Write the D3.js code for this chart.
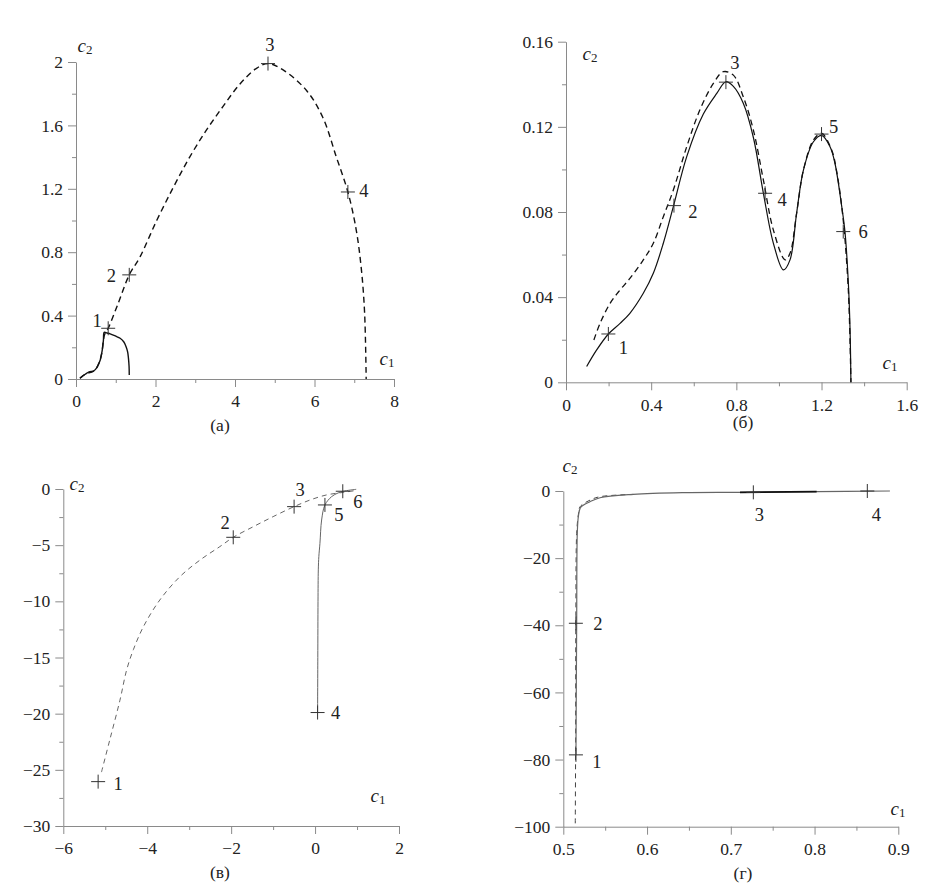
<!DOCTYPE html>
<html><head><meta charset="utf-8">
<script src="https://cdn.jsdelivr.net/npm/d3@7"></script>
<style>body{margin:0;background:#fff}svg{display:block}</style>
</head><body><svg id="c" width="947" height="886"></svg>
<script>
// ---------- DATA ----------
// panel (а)
const aSolidC1 = [0.10, 0.17, 0.23, 0.33, 0.44, 0.52, 0.56, 0.61, 0.645, 0.67, 0.69, 0.71, 0.78, 0.86, 1.0, 1.11, 1.20, 1.26, 1.30, 1.32, 1.335, 1.34];
const aSolidC2 = [0.004, 0.02, 0.03, 0.045, 0.05, 0.07, 0.09, 0.12, 0.16, 0.20, 0.245, 0.294, 0.29, 0.285, 0.27, 0.257, 0.235, 0.204, 0.17, 0.13, 0.08, 0.025];
const aDashC1 = [0.10, 0.23, 0.44, 0.56, 0.645, 0.69, 0.72, 0.81, 1.05, 1.34, 1.61, 2.03, 2.45, 2.86, 3.28, 3.70, 4.12, 4.54, 4.83, 5.21, 5.80, 6.21, 6.55, 6.84, 7.05, 7.18, 7.26, 7.30];
const aDashC2 = [0.004, 0.03, 0.05, 0.09, 0.16, 0.245, 0.28, 0.32, 0.47, 0.657, 0.77, 1.0, 1.21, 1.40, 1.57, 1.72, 1.86, 1.96, 1.99, 1.95, 1.82, 1.65, 1.40, 1.18, 0.94, 0.69, 0.42, 0.0];
const aMarkC1 = [0.81, 1.34, 4.83, 6.84];
const aMarkC2 = [0.32, 0.657, 1.99, 1.18];
const aMarkLabels = ["1", "2", "3", "4"];
const aXTicks = [0, 2, 4, 6, 8];
const aXMinor = [1, 3, 5, 7];
const aYTicks = [0, 0.4, 0.8, 1.2, 1.6, 2];
const aYMinor = [0.2, 0.6, 1.0, 1.4, 1.8];

// panel (б)
const bSolidC1 = [0.097, 0.144, 0.199, 0.254, 0.30, 0.363, 0.41, 0.457, 0.504, 0.567, 0.645, 0.708, 0.751, 0.786, 0.833, 0.88, 0.927, 0.974, 1.021, 1.052, 1.083, 1.115, 1.162, 1.20, 1.24, 1.263, 1.295, 1.31, 1.326, 1.334, 1.338];
const bSolidC2 = [0.0074, 0.0152, 0.0227, 0.0277, 0.0324, 0.0418, 0.0512, 0.0653, 0.0825, 0.106, 0.126, 0.1357, 0.1412, 0.139, 0.131, 0.115, 0.0888, 0.0653, 0.0528, 0.0575, 0.0794, 0.0997, 0.113, 0.116, 0.1107, 0.1029, 0.0825, 0.0708, 0.0465, 0.0246, 0];
const bDashC1 = [0.131, 0.16, 0.207, 0.254, 0.30, 0.363, 0.41, 0.457, 0.504, 0.567, 0.629, 0.692, 0.739, 0.786, 0.833, 0.88, 0.927, 0.974, 1.029, 1.052, 1.083, 1.115, 1.162, 1.20, 1.248, 1.27, 1.30, 1.326, 1.338];
const bDashC2 = [0.0199, 0.0277, 0.0371, 0.0434, 0.0488, 0.0575, 0.0653, 0.0778, 0.0903, 0.1107, 0.128, 0.1404, 0.1459, 0.1443, 0.134, 0.1185, 0.095, 0.0715, 0.0575, 0.0606, 0.0794, 0.0997, 0.1138, 0.117, 0.109, 0.0997, 0.078, 0.043, 0];
const bMarkC1 = [0.199, 0.507, 0.751, 0.935, 1.20, 1.302];
const bMarkC2 = [0.0227, 0.083, 0.141, 0.0888, 0.1166, 0.0708];
const bMarkLabels = ["1", "2", "3", "4", "5", "6"];
const bXTicks = [0, 0.4, 0.8, 1.2, 1.6];
const bXMinor = [0.2, 0.6, 1.0, 1.4];
const bYTicks = [0, 0.04, 0.08, 0.12, 0.16];
const bYMinor = [0.02, 0.06, 0.10, 0.14];

// panel (в)
const vDashC1 = [-5.09, -4.89, -4.65, -4.49, -4.33, -4.09, -3.70, -3.22, -2.74, -2.27, -1.95, -1.47, -1.0, -0.50, -0.12, 0.27, 0.67, 1.0];
const vDashC2 = [-25.2, -22.3, -18.8, -16.1, -14.3, -12.25, -9.88, -7.8, -6.32, -5.13, -4.3, -3.35, -2.46, -1.57, -0.98, -0.53, -0.30, -0.12];
const vSolidC1 = [0.06, 0.065, 0.07, 0.077, 0.09, 0.116, 0.156, 0.235, 0.394, 0.55, 0.67, 0.98];
const vSolidC2 = [-19.9, -15, -10, -7.2, -6, -4.84, -2.76, -1.42, -0.68, -0.35, -0.2, -0.03];
const vMarkC1 = [-5.17, -1.95, -0.5, 0.06, 0.235, 0.66];
const vMarkC2 = [-26.05, -4.3, -1.57, -19.9, -1.42, -0.2];
const vMarkLabels = ["1", "2", "3", "4", "5", "6"];
const vXTicks = [-6, -4, -2, 0, 2];
const vXMinor = [-5, -3, -1, 1];
const vYTicks = [0, -5, -10, -15, -20, -25, -30];
const vYMinor = [-2.5, -7.5, -12.5, -17.5, -22.5, -27.5];

// panel (г)
const gSolidC1 = [0.5151, 0.5155, 0.516, 0.5167, 0.518, 0.5207, 0.5318, 0.5438, 0.5836, 0.643, 0.711, 0.8025, 0.89];
const gSolidC2 = [-78.6, -60, -37.4, -12.6, -7.6, -4.9, -3.2, -2.0, -1.0, -0.5, -0.4, -0.2, 0];
const gBoldC1 = [0.711, 0.8025];
const gBoldC2 = [-0.4, -0.2];
const gDashC1 = [0.5143, 0.5147, 0.515, 0.516, 0.518, 0.52, 0.532, 0.5438, 0.5836];
const gDashC2 = [-99, -77, -37, -12.6, -7, -4.7, -2.7, -1.7, -1.0];
const gMarkC1 = [0.5151, 0.515, 0.7269, 0.863];
const gMarkC2 = [-78.6, -39.4, -0.4, 0];
const gMarkLabels = ["1", "2", "3", "4"];
const gXTicks = [0.5, 0.6, 0.7, 0.8, 0.9];
const gXMinor = [0.55, 0.65, 0.75, 0.85];
const gYTicks = [0, -20, -40, -60, -80, -100];
const gYMinor = [-10, -30, -50, -70, -90];

const captions = ["(а)", "(б)", "(в)", "(г)"];

// ---------- LAYOUT / STYLE ----------
const zip = (a, b) => a.map((v, i) => [v, b[i]]);
const panels = [
  { xd: [0, 8], yd: [0, 2], xr: [76, 394], yr: [379, 62],
    xT: aXTicks, xM: aXMinor, yT: aYTicks, yM: aYMinor,
    solid: zip(aSolidC1, aSolidC2), dash: zip(aDashC1, aDashC2),
    marks: zip(aMarkC1, aMarkC2), labels: aMarkLabels,
    offs: [[-11, -7], [-18, 1], [2, -19], [16, -1]],
    solidStyle: { c: "#111", w: 1.4 }, dashStyle: { c: "#111", w: 1.4, d: "6,4" },
    c2: [85, 45], c1: [387, 358], cap: [220, 425] },
  { xd: [0, 1.6], yd: [0, 0.16], xr: [566, 906.7], yr: [382.3, 41.7],
    xT: bXTicks, xM: bXMinor, yT: bYTicks, yM: bYMinor,
    solid: zip(bSolidC1, bSolidC2), dash: zip(bDashC1, bDashC2),
    marks: zip(bMarkC1, bMarkC2), labels: bMarkLabels,
    offs: [[15, 14], [19, 6], [9, -19], [17, 7], [12, -7], [20, 0]],
    solidStyle: { c: "#111", w: 1.2 }, dashStyle: { c: "#111", w: 1.3, d: "6,4" },
    c2: [590, 53], c1: [890, 362], cap: [743, 422] },
  { xd: [-6, 2], yd: [-30, 0], xr: [63.3, 399], yr: [826, 489],
    xT: vXTicks, xM: vXMinor, yT: vYTicks, yM: vYMinor,
    solid: zip(vSolidC1, vSolidC2), dash: zip(vDashC1, vDashC2),
    marks: zip(vMarkC1, vMarkC2), labels: vMarkLabels,
    offs: [[20, 2], [-8, -14], [6, -17], [18, 0], [14, 10], [15, 11]],
    solidStyle: { c: "#666", w: 1 }, dashStyle: { c: "#666", w: 1, d: "5,4" },
    c2: [77, 483], c1: [378, 795], cap: [220, 872] },
  { xd: [0.5, 0.9], yd: [-100, 0], xr: [563.3, 898.3], yr: [826.7, 491],
    xT: gXTicks, xM: gXMinor, yT: gYTicks, yM: gYMinor,
    solid: zip(gSolidC1, gSolidC2), dash: zip(gDashC1, gDashC2),
    bold: zip(gBoldC1, gBoldC2),
    marks: zip(gMarkC1, gMarkC2), labels: gMarkLabels,
    offs: [[21, 7], [22, 1], [6, 23], [9, 24]],
    solidStyle: { c: "#666", w: 1.2 }, dashStyle: { c: "#444", w: 1, d: "5,4" },
    c2: [570, 465], c1: [898, 808], cap: [743, 873] }
];

const FONT = "'Liberation Serif', 'Times New Roman', serif";
const svg = d3.select("#c");
const fmt = d => d3.format("~g")(d).replace("-", "\u2212");

function axisTitle(g, pos, sub) {
  const t = g.append("text").attr("x", pos[0]).attr("y", pos[1])
    .attr("text-anchor", "middle").attr("dominant-baseline", "central")
    .attr("font-family", FONT).attr("font-size", 19).attr("fill", "#222");
  t.append("tspan").attr("font-style", "italic").text("c");
  t.append("tspan").attr("font-size", 13).attr("dy", 4).text(sub);
}

panels.forEach((p, i) => {
  const g = svg.append("g");
  const x = d3.scaleLinear().domain(p.xd).range(p.xr);
  const y = d3.scaleLinear().domain(p.yd).range(p.yr);
  const xAxisY = p.yr[0], yAxisX = p.xr[0];

  // minor ticks
  g.append("g").attr("transform", `translate(0,${xAxisY})`)
    .call(d3.axisBottom(x).tickValues(p.xM).tickSize(4).tickFormat("").tickSizeOuter(0))
    .call(s => s.select(".domain").remove());
  g.append("g").attr("transform", `translate(${yAxisX},0)`)
    .call(d3.axisLeft(y).tickValues(p.yM).tickSize(4).tickFormat("").tickSizeOuter(0))
    .call(s => s.select(".domain").remove());
  // major axes
  const xa = g.append("g").attr("transform", `translate(0,${xAxisY})`)
    .call(d3.axisBottom(x).tickValues(p.xT).tickSize(8).tickPadding(8).tickSizeOuter(0).tickFormat(fmt));
  const ya = g.append("g").attr("transform", `translate(${yAxisX},0)`)
    .call(d3.axisLeft(y).tickValues(p.yT).tickSize(8).tickPadding(5).tickSizeOuter(0).tickFormat(fmt));
  [xa, ya].forEach(a => {
    a.selectAll("text").attr("font-family", FONT).attr("font-size", 17.5).attr("fill", "#222");
  });
  g.selectAll(".domain, .tick line").attr("stroke", "#8a8a8a").attr("stroke-width", 1);

  const line = d3.line().x(d => x(d[0])).y(d => y(d[1])).curve(d3.curveCatmullRom.alpha(0.5));
  g.append("path").attr("d", line(p.dash)).attr("fill", "none")
    .attr("stroke", p.dashStyle.c).attr("stroke-width", p.dashStyle.w).attr("stroke-dasharray", p.dashStyle.d);
  g.append("path").attr("d", line(p.solid)).attr("fill", "none")
    .attr("stroke", p.solidStyle.c).attr("stroke-width", p.solidStyle.w);
  if (p.bold) {
    g.append("path").attr("d", d3.line().x(d => x(d[0])).y(d => y(d[1]))(p.bold)).attr("fill", "none")
      .attr("stroke", "#111").attr("stroke-width", 1.6);
  }

  // markers
  const m = g.selectAll(".mk").data(p.marks).enter().append("g")
    .attr("transform", d => `translate(${x(d[0])},${y(d[1])})`);
  m.append("line").attr("x1", -7).attr("x2", 7).attr("stroke", "#333").attr("stroke-width", 1);
  m.append("line").attr("y1", -7).attr("y2", 7).attr("stroke", "#333").attr("stroke-width", 1);
  m.append("text").attr("x", (d, k) => p.offs[k][0]).attr("y", (d, k) => p.offs[k][1])
    .attr("text-anchor", "middle").attr("dominant-baseline", "central")
    .attr("font-family", FONT).attr("font-size", 18.5).attr("fill", "#222")
    .text((d, k) => p.labels[k]);

  axisTitle(g, p.c2, "2");
  axisTitle(g, p.c1, "1");
  g.append("text").attr("x", p.cap[0]).attr("y", p.cap[1])
    .attr("text-anchor", "middle").attr("dominant-baseline", "central")
    .attr("font-family", FONT).attr("font-size", 17.5).attr("fill", "#222").text(captions[i]);
});
</script></body></html>
